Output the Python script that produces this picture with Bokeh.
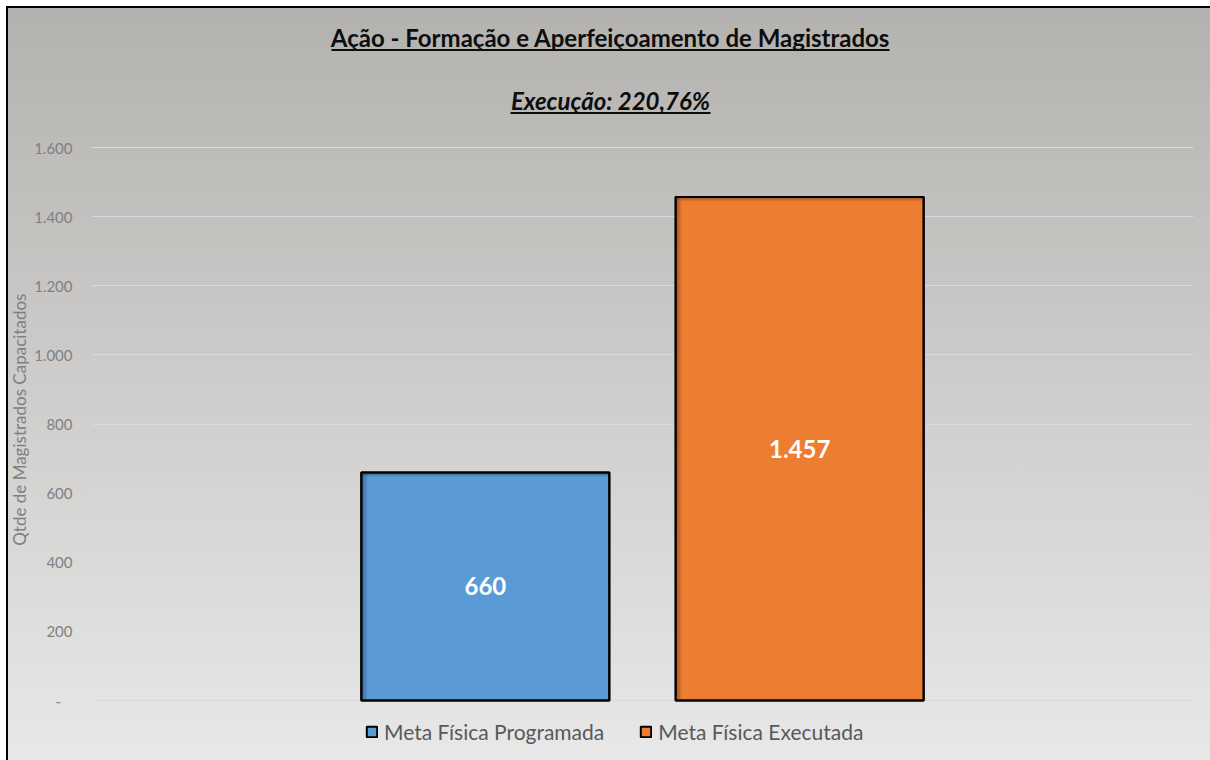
from bokeh.plotting import figure
from bokeh.models import (FactorRange, Range1d, FixedTicker, Label, BoxAnnotation,
                          Legend, LegendItem, ColumnDataSource)
from bokeh.transform import dodge
from bokeh.core.properties import value
from bokeh.embed import file_html
from bokeh.resources import INLINE

# ---- data -------------------------------------------------------------
title_text = "Ação - Formação e Aperfeiçoamento de Magistrados"
subtitle_text = "Execução: 220,76%"
y_axis_title = "Qtde de Magistrados Capacitados"
categories = ["Meta Física Programada", "Meta Física Executada"]
values = [660, 1457]
bar_colors = ["#5b9bd5", "#ed7d31"]
shade_colors = ["#1f3d5c", "#6b3410"]
y_ticks = [0, 200, 400, 600, 800, 1000, 1200, 1400, 1600]
y_tick_labels = ["-\u00a0\u00a0\u00a0", "200", "400", "600", "800", "1.000", "1.200", "1.400", "1.600"]

# ---- layout (page pixels) --------------------------------------------
PAGE_W, PAGE_H = 1210, 760
SHIFT = 6                    # canvas starts 6px in from the page's left edge
W, H = PAGE_W - SHIFT, PAGE_H
FRAME_L, FRAME_R = 90, 1193  # plot frame, page x
ZERO_Y, TOP_Y = 700, 147     # page y of value 0 and of the top tick
Y_TOP = 1600
PAD = 0.753                  # outer category padding, in category units
BAR_W = 0.789
px_x = (FRAME_R - FRAME_L) / (len(categories) + 2 * PAD)
px_y = (ZERO_Y - TOP_Y) / Y_TOP
TEXT_DY = 8.5                # label baseline correction

FONT = "Lato"


def sx(page_x):
    return page_x - FRAME_L


def sy(page_y):
    return PAGE_H - page_y


p = figure(width=W, height=H, output_backend="svg", toolbar_location=None,
           x_range=FactorRange(factors=categories, range_padding=PAD,
                               range_padding_units="absolute"),
           y_range=Range1d(-(PAGE_H - ZERO_Y) / px_y, Y_TOP + TOP_Y / px_y),
           min_border_left=FRAME_L - SHIFT, min_border_right=PAGE_W - FRAME_R,
           min_border_top=0, min_border_bottom=0)

# transparent canvas; the chart box, its edge lines and gradient come from CSS
p.background_fill_color = None
p.border_fill_color = None
p.outline_line_color = None
p.styles = {
    "margin-left": f"{SHIFT}px",
    "background-color": "white",
    "background-image": ("linear-gradient(#000, #000), linear-gradient(#000, #000), "
                         "linear-gradient(to bottom, #b4b2af, #e8e8e8)"),
    "background-position": "0px 6px, 0px 6px, 2px 8px",
    "background-size": "100% 2px, 2px 100%, calc(100% - 2px) calc(100% - 8px)",
    "background-repeat": "no-repeat",
}

# ---- axes --------------------------------------------------------------
p.xaxis.visible = False
p.xgrid.grid_line_color = None
yax = p.yaxis[0]
yax.ticker = FixedTicker(ticks=y_ticks)
yax.major_label_overrides = {t: lab for t, lab in zip(y_ticks, y_tick_labels)}
yax.axis_line_color = None
yax.major_tick_line_color = None
yax.minor_tick_line_color = None
yax.major_tick_out = 0
yax.major_tick_in = 0
yax.minor_tick_out = 0
yax.minor_tick_in = 0
yax.major_label_text_font = FONT
yax.major_label_text_font_size = "15px"
yax.major_label_text_color = "#808080"
yax.major_label_standoff = 19
# trailing no-break spaces keep the rotated title centred on the value span
yax.axis_label = y_axis_title + "\u00a0" * 18
yax.axis_label_text_font = FONT
yax.axis_label_text_font_style = "normal"
yax.axis_label_text_font_size = "17px"
yax.axis_label_text_color = "#808080"
yax.axis_label_standoff = 1
p.ygrid.grid_line_color = "#dadada"
p.ygrid.grid_line_width = 1

# ---- bars --------------------------------------------------------------
src = ColumnDataSource(dict(cat=categories, val=values, color=bar_colors,
                            shade=shade_colors,
                            label=[f"{v:,}".replace(",", ".") for v in values],
                            mid=[v / 2 for v in values]))

bars = p.vbar(x="cat", top="val", width=BAR_W, source=src, fill_color="color",
              line_color="black", line_width=2)

# inner shading along the left and top edges
for i, alpha in enumerate([0.6, 0.42, 0.26, 0.12]):
    d = 1.5 * i + 0.75
    p.vbar(x=dodge("cat", -BAR_W / 2 + d / px_x, range=p.x_range), top="val",
           width=1.5 / px_x, source=src, fill_color="shade", fill_alpha=alpha,
           line_color=None)
for i, alpha in enumerate([0.6, 0.4, 0.2]):
    d = 1.3 * i
    src_top = ColumnDataSource(dict(cat=categories,
                                    top=[v - d / px_y for v in values],
                                    bottom=[v - (d + 1.3) / px_y for v in values],
                                    shade=shade_colors))
    p.vbar(x="cat", top="top", bottom="bottom", width=BAR_W, source=src_top,
           fill_color="shade", fill_alpha=alpha, line_color=None)
p.vbar(x="cat", top="val", width=BAR_W, source=src, fill_color=None,
       line_color="black", line_width=2)

p.text(x="cat", y="mid", text="label", source=src, text_align="center",
       text_baseline="middle", text_color="white", text_font=value(FONT),
       text_font_style="bold", text_font_size="24px")

# ---- title and subtitle with underline --------------------------------
p.add_layout(Label(x=sx(609), y=sy(45 - TEXT_DY), x_units="screen", y_units="screen",
                   text=title_text, text_align="center", text_baseline="alphabetic",
                   text_font=FONT, text_font_style="bold", text_font_size="24px",
                   text_color="#0d0d0d"))
p.add_layout(Label(x=sx(609), y=sy(108 - TEXT_DY), x_units="screen", y_units="screen",
                   text=subtitle_text, text_align="center", text_baseline="alphabetic",
                   text_font=FONT, text_font_style="bold italic", text_font_size="24px",
                   text_color="#0d0d0d"))
p.add_layout(BoxAnnotation(left=sx(330), right=sx(888), top=sy(48.5), bottom=sy(50.5),
                           left_units="screen", right_units="screen",
                           top_units="screen", bottom_units="screen",
                           fill_color="#0d0d0d", fill_alpha=1, line_color=None))
p.add_layout(BoxAnnotation(left=sx(509), right=sx(709), top=sy(111.5), bottom=sy(113.5),
                           left_units="screen", right_units="screen",
                           top_units="screen", bottom_units="screen",
                           fill_color="#0d0d0d", fill_alpha=1, line_color=None))

# ---- legend ------------------------------------------------------------
legend = Legend(items=[LegendItem(label=c, renderers=[bars], index=i)
                       for i, c in enumerate(categories)],
                orientation="horizontal", location=(sx(364), sy(744)),
                glyph_width=13, glyph_height=13, label_standoff=6, spacing=35,
                padding=0, margin=0, border_line_color=None,
                background_fill_alpha=0, label_text_font=FONT,
                label_text_font_size="21px", label_text_color="#595959")
p.add_layout(legend, "center")

open("out.html", "w").write(file_html(p, INLINE))
